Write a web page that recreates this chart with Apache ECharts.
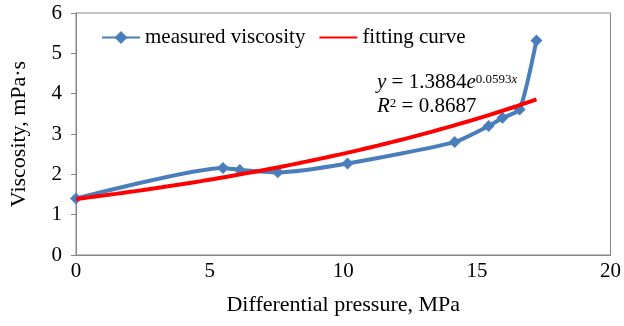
<!DOCTYPE html>
<html>
<head>
<meta charset="utf-8">
<script src="https://cdn.jsdelivr.net/npm/echarts@6/dist/echarts.min.js"></script>
<style>
  html, body { margin: 0; padding: 0; background: #fff; }
  #chart { width: 624px; height: 326px; }
</style>
</head>
<body>
<div id="chart"></div>
<script>
// Measured viscosity against differential pressure
const pressure = [0, 5.5, 6.13, 7.55, 10.16, 14.17, 15.44, 15.96, 16.6, 17.23];
const viscosity = [1.40, 2.16, 2.11, 2.05, 2.27, 2.80, 3.20, 3.40, 3.61, 5.32];

// Exponential fit y = a * e^(b x), coefficients as printed on the chart
const fitA = 1.3884;
const fitB = 0.0593;
const fitR2 = 0.8687;

const xTicks = [0, 5, 10, 15, 20];
const yTicks = [0, 1, 2, 3, 4, 5, 6];

const seriesNames = ['measured viscosity', 'fitting curve'];

const serif = '"Liberation Serif", "DejaVu Serif", serif';

// Trend line sampled along the measured pressure range
const fitLine = [];
const xEnd = pressure[pressure.length - 1];
for (let i = 0; i <= 70; i++) {
  const x = xEnd * i / 70;
  fitLine.push([x, fitA * Math.exp(fitB * x)]);
}

const measured = pressure.map((p, i) => [p, viscosity[i]]);

const chart = echarts.init(document.getElementById('chart'), null, { renderer: 'canvas' });

const axisGray = '#868686';
const blue = '#4A7EBB';
const red = '#FF0000';

chart.setOption({
  animation: false,
  backgroundColor: '#fff',
  textStyle: { fontFamily: serif },
  grid: {
    left: 76, right: 13, top: 13, bottom: 71,
    show: true, borderColor: axisGray, borderWidth: 1
  },
  legend: {
    left: 96, top: 22,
    itemWidth: 38, itemHeight: 16, itemGap: 13,
    textStyle: { fontFamily: serif, fontSize: 21, color: '#000' },
    data: [
      { name: seriesNames[0] },
      { name: seriesNames[1], itemStyle: { opacity: 0 } }
    ]
  },
  xAxis: {
    type: 'value',
    min: xTicks[0], max: xTicks[xTicks.length - 1], interval: 5,
    name: 'Differential pressure, MPa',
    nameLocation: 'middle', nameGap: 39,
    nameTextStyle: { fontFamily: serif, fontSize: 22, color: '#000' },
    axisLine: { show: true, lineStyle: { color: axisGray, width: 1 } },
    axisTick: { show: false },
    splitLine: { show: false },
    axisLabel: { fontFamily: serif, fontSize: 21, color: '#000', margin: 6 }
  },
  yAxis: {
    type: 'value',
    min: yTicks[0], max: yTicks[yTicks.length - 1], interval: 1,
    name: 'Viscosity, mPa·s',
    nameLocation: 'middle', nameGap: 46,
    nameTextStyle: { fontFamily: serif, fontSize: 22, color: '#000' },
    axisLine: { show: true, lineStyle: { color: axisGray, width: 1 } },
    axisTick: { show: true, length: 5, lineStyle: { color: axisGray } },
    splitLine: { show: false },
    axisLabel: { fontFamily: serif, fontSize: 21, color: '#000', margin: 14 }
  },
  series: [
    {
      name: seriesNames[0],
      type: 'line',
      data: measured,
      smooth: 0.2,
      symbol: 'diamond',
      symbolSize: 12,
      itemStyle: { color: blue },
      lineStyle: { color: blue, width: 4 },
      z: 2
    },
    {
      name: seriesNames[1],
      type: 'line',
      data: fitLine,
      smooth: false,
      symbol: 'none',
      itemStyle: { color: red },
      lineStyle: { color: red, width: 4 },
      z: 3
    }
  ],
  graphic: [
    {
      type: 'text',
      left: 377, top: 72,
      style: {
        text: '{i|y}{n| = ' + fitA.toFixed(4) + '}{i|e}{s|' + fitB.toFixed(4) + '}{si|x}',
        rich: {
          n: { fontFamily: serif, fontSize: 21, color: '#000', lineHeight: 20, verticalAlign: 'bottom' },
          i: { fontFamily: serif, fontSize: 21, fontStyle: 'italic', color: '#000', lineHeight: 20, verticalAlign: 'bottom' },
          s: { fontFamily: serif, fontSize: 13, color: '#000', lineHeight: 12, verticalAlign: 'top' },
          si: { fontFamily: serif, fontSize: 13, fontStyle: 'italic', color: '#000', lineHeight: 12, verticalAlign: 'top' }
        }
      }
    },
    {
      type: 'text',
      left: 377, top: 96,
      style: {
        text: '{i|R}{s|2}{n| = ' + fitR2.toFixed(4) + '}',
        rich: {
          n: { fontFamily: serif, fontSize: 21, color: '#000', lineHeight: 20, verticalAlign: 'bottom' },
          i: { fontFamily: serif, fontSize: 21, fontStyle: 'italic', color: '#000', lineHeight: 20, verticalAlign: 'bottom' },
          s: { fontFamily: serif, fontSize: 13, color: '#000', lineHeight: 11, verticalAlign: 'top' }
        }
      }
    }
  ]
});
</script>
</body>
</html>
